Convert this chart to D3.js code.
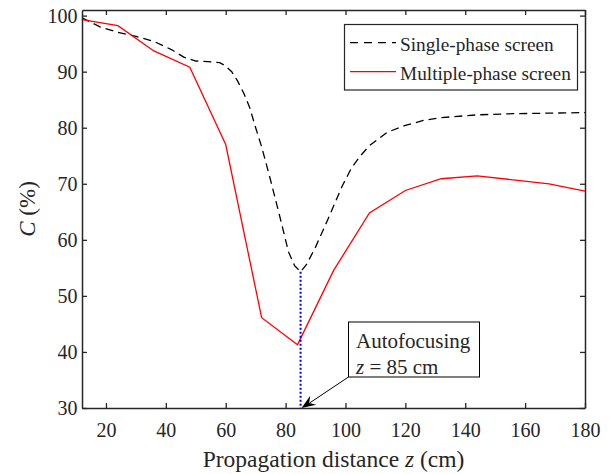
<!DOCTYPE html>
<html>
<head>
<meta charset="utf-8">
<script src="https://cdn.jsdelivr.net/npm/d3@7"></script>
<style>
  body { margin: 0; background: #fff; }
  svg text { font-family: 'Liberation Serif', 'Times New Roman', Times, serif; fill: #262626; }
</style>
</head>
<body>
<svg id="chart" width="616" height="474"></svg>
<script>
// single-phase screen (dashed black)
const singleZ = [12, 18, 24, 30, 36, 42, 46, 50, 54, 58, 60, 62, 64, 66, 68, 70, 72, 75, 78, 81, 83, 85,
  87, 90, 94, 99, 102, 105, 108, 114, 120, 126, 132, 144, 156, 168, 180]
const singleC = [99.6, 98.0, 97.0, 96.3, 95.4, 93.9, 92.6, 91.9, 91.8, 91.6, 91.0, 90.0, 88.3, 86.2, 83.6, 80.0, 76.6, 70.6, 64.3, 57.8, 55.4, 54.3,
  55.6, 58.7, 63.5, 69.7, 72.8, 75.0, 76.8, 79.2, 80.4, 81.3, 81.8, 82.3, 82.5, 82.6, 82.7]

// multiple-phase screen (solid red)
const multiZ = [12, 24, 36, 48, 60, 72, 84, 96, 108, 120, 132, 144, 156, 168, 180]
const multiC = [99.3, 98.2, 93.7, 90.8, 77.0, 46.1, 41.3, 54.5, 64.8, 68.8, 70.9, 71.4, 70.7, 70.0, 68.7]

const xTicks = [20, 40, 60, 80, 100, 120, 140, 160, 180]
const yTicks = [30, 40, 50, 60, 70, 80, 90, 100]
const focusZ = 85
const focusC = 54.3

const svg = d3.select('#chart')
const margin = {left: 82, right: 31, top: 10, bottom: 66}
const W = 616, H = 474
const axisColor = '#262626'
const serif = "'Liberation Serif', 'Times New Roman', Times, serif"

const x = d3.scaleLinear().domain([12, 180]).range([margin.left, W - margin.right])
const y = d3.scaleLinear().domain([30, 101]).range([H - margin.bottom, margin.top])

// lines
const line = d3.line().x(d => x(d[0])).y(d => y(d[1]))

svg.append('path')
  .datum(d3.zip(singleZ, singleC))
  .attr('d', line)
  .attr('fill', 'none')
  .attr('stroke', '#000')
  .attr('stroke-width', 1.3)
  .attr('stroke-dasharray', '8,5')

svg.append('path')
  .datum(d3.zip(multiZ, multiC))
  .attr('d', line)
  .attr('fill', 'none')
  .attr('stroke', '#ff0000')
  .attr('stroke-width', 1.3)

// blue dotted marker line
svg.append('line')
  .attr('x1', x(focusZ)).attr('x2', x(focusZ))
  .attr('y1', y(focusC)).attr('y2', y(30))
  .attr('stroke', '#0000ff')
  .attr('stroke-width', 2)
  .attr('stroke-dasharray', '2,2')

// axes
const gx = svg.append('g').attr('transform', `translate(0,${y(30)})`)
  .call(d3.axisBottom(x).tickValues(xTicks).tickSizeInner(-5).tickSizeOuter(0).tickPadding(15))
const gxTop = svg.append('g').attr('transform', `translate(0,${y(101)})`)
  .call(d3.axisTop(x).tickValues(xTicks).tickSizeInner(-5).tickSizeOuter(0).tickFormat(''))
const gy = svg.append('g').attr('transform', `translate(${x(12)},0)`)
  .call(d3.axisLeft(y).tickValues(yTicks).tickSizeInner(-5).tickSizeOuter(0).tickPadding(4.5))
const gyRight = svg.append('g').attr('transform', `translate(${x(180)},0)`)
  .call(d3.axisRight(y).tickValues(yTicks).tickSizeInner(-5).tickSizeOuter(0).tickFormat(''))

for (const g of [gx, gxTop, gy, gyRight]) {
  g.attr('font-family', serif).attr('font-size', 20)
  g.select('.domain').attr('stroke', axisColor).attr('stroke-width', 1.5)
  g.selectAll('.tick line').attr('stroke', axisColor).attr('stroke-width', 1.3)
  g.selectAll('.tick text')
    .style('font-family', serif)
    .style('font-size', '20px')
    .attr('fill', axisColor)
}

// axis titles
const xt = svg.append('text')
  .attr('x', (x(12) + x(180)) / 2)
  .attr('y', 467)
  .attr('text-anchor', 'middle')
  .style('font-family', serif)
  .style('font-size', '23.5px')
xt.append('tspan').text('Propagation distance ')
xt.append('tspan').attr('font-style', 'italic').text('z')
xt.append('tspan').text(' (cm)')

const yt = svg.append('text')
  .attr('transform', `translate(35,${(y(30) + y(101)) / 2}) rotate(-90)`)
  .attr('text-anchor', 'middle')
  .style('font-family', serif)
  .style('font-size', '23px')
yt.append('tspan').attr('font-style', 'italic').text('C')
yt.append('tspan').text(' (%)')

// legend
const legend = svg.append('g')
legend.append('rect')
  .attr('x', 344.5).attr('y', 24.5).attr('width', 233).attr('height', 65.5)
  .attr('fill', '#fff').attr('stroke', axisColor).attr('stroke-width', 1.2)
const legItems = [
  {label: 'Single-phase screen', color: '#000', dash: '8,6'},
  {label: 'Multiple-phase screen', color: '#ff0000', dash: null}
]
legItems.forEach((d, i) => {
  const ly = 42.7 + i * 29
  legend.append('line')
    .attr('x1', 350).attr('x2', 396).attr('y1', ly).attr('y2', ly)
    .attr('stroke', d.color).attr('stroke-width', 1.3)
    .attr('stroke-dasharray', d.dash)
  legend.append('text')
    .attr('x', 400).attr('y', ly + 8)
    .style('font-family', serif)
    .style('font-size', '19.3px')
    .text(d.label)
})

// annotation box + arrow
const ann = svg.append('g')
ann.append('rect')
  .attr('x', 348.5).attr('y', 322).attr('width', 131).attr('height', 55)
  .attr('fill', '#fff').attr('stroke', '#000').attr('stroke-width', 1)
ann.append('text').attr('x', 356).attr('y', 348.3)
  .style('font-family', serif).style('font-size', '21px').text('Autofocusing')
const t2 = ann.append('text').attr('x', 356).attr('y', 374)
  .style('font-family', serif).style('font-size', '21px')
t2.append('tspan').attr('font-style', 'italic').text('z')
t2.append('tspan').text(' = 85 cm')

const ax0 = 348.5, ay0 = 377, ax1 = x(focusZ) + 1, ay1 = y(30)
ann.append('line')
  .attr('x1', ax0).attr('y1', ay0).attr('x2', ax1 + 8).attr('y2', ay1 - 5)
  .attr('stroke', '#000').attr('stroke-width', 1)
const ang = Math.atan2(ay1 - ay0, ax1 - ax0)
const hl = 14, hw = 5.5
const bx = ax1 - hl * Math.cos(ang), by = ay1 - hl * Math.sin(ang)
const nx = -Math.sin(ang), ny = Math.cos(ang)
const mx = ax1 - hl * 0.65 * Math.cos(ang), my = ay1 - hl * 0.65 * Math.sin(ang)
ann.append('path')
  .attr('d', `M${ax1},${ay1} L${bx + nx * hw},${by + ny * hw} L${mx},${my} L${bx - nx * hw},${by - ny * hw} Z`)
  .attr('fill', '#000')
</script>
</body>
</html>
